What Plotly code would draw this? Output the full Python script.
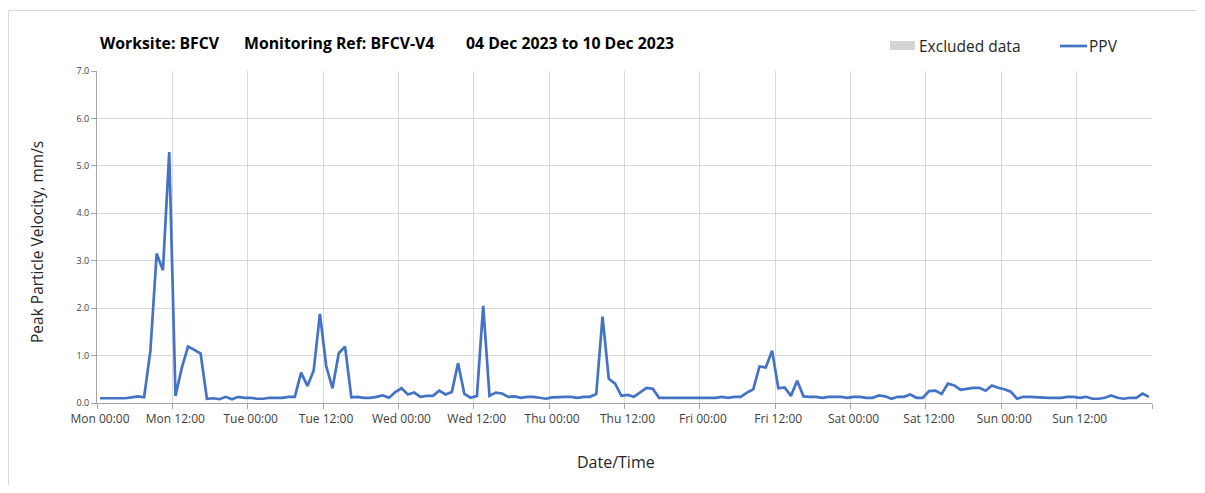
import pandas as pd
import plotly.graph_objects as go

# Hourly PPV values (mm/s), one list per day, 04 Dec 2023 (Mon) to 10 Dec 2023 (Sun)
mon = [0.10, 0.10, 0.10, 0.10, 0.10, 0.12, 0.14, 0.12, 1.10, 3.15, 2.80, 5.29,
       0.15, 0.74, 1.19, 1.12, 1.04, 0.09, 0.10, 0.08, 0.13, 0.08, 0.13, 0.11]
tue = [0.11, 0.09, 0.09, 0.11, 0.11, 0.11, 0.13, 0.13, 0.64, 0.36, 0.68, 1.88,
       0.78, 0.31, 1.05, 1.19, 0.12, 0.13, 0.11, 0.11, 0.13, 0.16, 0.11, 0.23]
wed = [0.31, 0.18, 0.22, 0.13, 0.15, 0.15, 0.26, 0.18, 0.23, 0.84, 0.19, 0.11,
       0.15, 2.05, 0.15, 0.22, 0.20, 0.13, 0.14, 0.11, 0.13, 0.13, 0.11, 0.09]
thu = [0.12, 0.13, 0.13, 0.13, 0.11, 0.13, 0.13, 0.19, 1.82, 0.51, 0.41, 0.15,
       0.17, 0.13, 0.22, 0.32, 0.30, 0.11, 0.11, 0.11, 0.11, 0.11, 0.11, 0.11]
fri = [0.11, 0.11, 0.11, 0.13, 0.11, 0.13, 0.13, 0.22, 0.29, 0.77, 0.75, 1.10,
       0.31, 0.33, 0.15, 0.47, 0.14, 0.13, 0.13, 0.11, 0.13, 0.13, 0.13, 0.11]
sat = [0.13, 0.13, 0.11, 0.11, 0.16, 0.14, 0.09, 0.13, 0.13, 0.18, 0.11, 0.11,
       0.25, 0.26, 0.19, 0.41, 0.37, 0.28, 0.30, 0.32, 0.32, 0.26, 0.37, 0.32]
sun = [0.29, 0.24, 0.09, 0.13, 0.13, 0.12, 0.11, 0.11, 0.11, 0.11, 0.13, 0.13,
       0.11, 0.13, 0.09, 0.09, 0.11, 0.16, 0.11, 0.09, 0.11, 0.11, 0.20, 0.13]

ppv = mon + tue + wed + thu + fri + sat + sun
start = "2023-12-04 00:30"
times = pd.date_range(start, periods=len(ppv), freq="h")

tick_times = pd.date_range("2023-12-04 00:00", "2023-12-11 00:00", freq="12h")
tick_labels = ["Mon 00:00", "Mon 12:00", "Tue 00:00", "Tue 12:00", "Wed 00:00", "Wed 12:00",
               "Thu 00:00", "Thu 12:00", "Fri 00:00", "Fri 12:00", "Sat 00:00", "Sat 12:00",
               "Sun 00:00", "Sun 12:00", ""]

y_ticks = [0, 1, 2, 3, 4, 5, 6, 7]

FONT = "Open Sans"
OFF = 8  # page body margin
W, H = 1189, 477
L, R, T, B = 89, 45, 63, 82
PW, PH = W - L - R, H - T - B


def px(x):
    """page x pixel -> paper coordinate"""
    return (x - OFF - L) / PW


def py(y):
    """page y pixel -> paper coordinate"""
    return (H - B - (y - OFF)) / PH


fig = go.Figure()
fig.add_trace(go.Scatter(
    x=times, y=ppv, name="PPV", mode="lines",
    line=dict(color="#4472C4", width=2.7), showlegend=False))

fig.update_layout(
    width=W, height=H,
    margin=dict(l=L, r=R, t=T, b=B),
    paper_bgcolor="white", plot_bgcolor="white",
    font=dict(family=FONT, color="#404040"),
    showlegend=False,
    xaxis=dict(
        type="date",
        range=["2023-12-04 00:00", "2023-12-11 00:00"],
        tickmode="array", tickvals=tick_times, ticktext=tick_labels,
        showgrid=True, gridcolor="#d9d9d9", gridwidth=1,
        showline=True, linecolor="#a6a6a6", linewidth=1,
        ticks="outside", ticklen=5, tickcolor="#a6a6a6",
        tickfont=dict(size=12, color="#404040", family=FONT),
        ticklabelshift=3,
        zeroline=False,
    ),
    yaxis=dict(
        range=[0, 7], tickmode="array", tickvals=y_ticks,
        tickformat=".1f",
        showgrid=True, gridcolor="#d9d9d9", gridwidth=1,
        showline=True, linecolor="#a6a6a6", linewidth=1,
        ticks="outside", ticklen=5, tickcolor="#a6a6a6",
        tickfont=dict(size=9, color="#404040", family=FONT),
        zeroline=False,
    ),
)

# Title pieces
title_parts = [("Worksite: BFCV", 98), ("Monitoring Ref: BFCV-V4", 242),
               ("04 Dec 2023 to 10 Dec 2023", 464)]
for text, x0 in title_parts:
    fig.add_annotation(text="<b>" + text + "</b>", x=px(x0), y=py(43), xref="paper", yref="paper",
                       xanchor="left", yanchor="middle", showarrow=False,
                       font=dict(size=15.8, color="#000000", family=FONT))

# Legend (drawn manually)
fig.add_shape(type="rect", xref="paper", yref="paper",
              x0=px(890), x1=px(915), y0=py(50), y1=py(41),
              line=dict(width=0), fillcolor="#d4d4d4")
fig.add_annotation(text="Excluded data", x=px(917), y=py(46), xref="paper", yref="paper",
                   xanchor="left", yanchor="middle", showarrow=False,
                   font=dict(size=15.5, color="#262626", family=FONT))
fig.add_shape(type="line", xref="paper", yref="paper",
              x0=px(1060), x1=px(1087), y0=py(46), y1=py(46),
              line=dict(color="#4472C4", width=2.7))
fig.add_annotation(text="PPV", x=px(1087), y=py(46), xref="paper", yref="paper",
                   xanchor="left", yanchor="middle", showarrow=False,
                   font=dict(size=15.5, color="#262626", family=FONT))

# Axis titles
fig.add_annotation(text="Date/Time", x=px(616), y=py(462), xref="paper", yref="paper",
                   xanchor="center", yanchor="middle", showarrow=False,
                   font=dict(size=16, color="#262626", family=FONT))
fig.add_annotation(text="Peak Particle Velocity, mm/s", x=px(37), y=py(242), xref="paper",
                   yref="paper", xanchor="center", yanchor="middle", showarrow=False,
                   textangle=-90, font=dict(size=15.5, color="#262626", family=FONT))

# Outer frame (top and left edges only, as in the reference)
fig.add_shape(type="line", xref="paper", yref="paper",
              x0=px(8.5), x1=px(1205), y0=py(10.5), y1=py(10.5),
              line=dict(color="#d9d9d9", width=1), layer="below")
fig.add_shape(type="line", xref="paper", yref="paper",
              x0=px(8.5), x1=px(8.5), y0=py(10.5), y1=py(493),
              line=dict(color="#d9d9d9", width=1), layer="below")

fig.write_html("out.html")
